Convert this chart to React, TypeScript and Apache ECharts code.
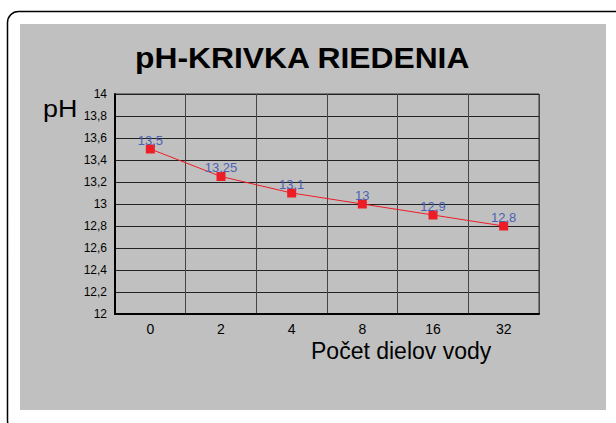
import React, { useEffect, useRef } from "react";
import * as echarts from "echarts";

const categories = ["0", "2", "4", "8", "16", "32"];
const phValues = [13.5, 13.25, 13.1, 13, 12.9, 12.8];
const titleText = "pH-KRIVKA RIEDENIA";
const yName = "pH";
const xName = "Počet dielov vody";

const fmt = (v: number) => String(Math.round(v * 100) / 100).replace(".", ",");

export default function App() {
  const ref = useRef<HTMLDivElement>(null);
  useEffect(() => {
    if (!ref.current) return;
    const chart = echarts.init(ref.current, null, { renderer: "svg" });
    const font = "Liberation Sans, Arial, sans-serif";
    chart.setOption({
      animation: false,
      backgroundColor: "#ffffff",
      textStyle: { fontFamily: font },
      graphic: [
        {
          type: "rect",
          z: -10,
          shape: { x: 7.5, y: 11.5, width: 620, height: 420, r: 11 },
          style: { fill: "#ffffff", stroke: "#000000", lineWidth: 1.5 },
        },
        {
          type: "rect",
          z: -9,
          shape: { x: 20, y: 24, width: 586, height: 386 },
          style: { fill: "#c0c0c0" },
        },
        {
          type: "text",
          z: 10,
          x: 135,
          y: 43,
          scaleX: 1.06,
          style: {
            text: titleText,
            fontSize: 30,
            fontWeight: "bold",
            fill: "#000",
            fontFamily: font,
          },
        },
        {
          type: "text",
          z: 10,
          x: 43,
          y: 97,
          scaleX: 1.12,
          style: { text: yName, fontSize: 24, fill: "#000", fontFamily: font },
        },
        {
          type: "text",
          z: 10,
          x: 311,
          y: 339.5,
          style: { text: xName, fontSize: 23, fill: "#000", fontFamily: font },
        },
      ],
      grid: {
        left: 115,
        top: 94,
        width: 424,
        height: 220,
        show: true,
        borderColor: "#333",
        borderWidth: 1,
        backgroundColor: "transparent",
      },
      xAxis: {
        type: "category",
        data: categories,
        boundaryGap: true,
        axisLine: { show: true, lineStyle: { color: "#000", width: 2 } },
        axisTick: { show: false },
        axisLabel: { color: "#000", fontSize: 14, margin: 8, fontFamily: font },
        splitLine: { show: true, lineStyle: { color: "#444", width: 1 } },
      },
      yAxis: {
        type: "value",
        min: 12,
        max: 14,
        interval: 0.2,
        axisLine: { show: true, lineStyle: { color: "#000", width: 2 } },
        axisTick: { show: false },
        axisLabel: {
          color: "#000",
          fontSize: 12,
          margin: 8,
          fontFamily: font,
          formatter: (v: number) => fmt(v),
        },
        splitLine: { show: true, lineStyle: { color: "#222", width: 1 } },
      },
      series: [
        {
          type: "line",
          data: phValues,
          symbol: "rect",
          symbolSize: 9,
          itemStyle: { color: "#ee1c25" },
          lineStyle: { color: "#ee1c25", width: 1 },
          label: {
            show: true,
            position: "top",
            distance: -2,
            color: "#4a62b4",
            fontSize: 13,
            fontFamily: font,
            formatter: (p: any) => fmt(p.value),
          },
        },
      ],
    });
    return () => chart.dispose();
  }, []);
  return (
    <div
      ref={ref}
      style={{ position: "absolute", left: 0, top: 0, width: 616, height: 423 }}
    />
  );
}
